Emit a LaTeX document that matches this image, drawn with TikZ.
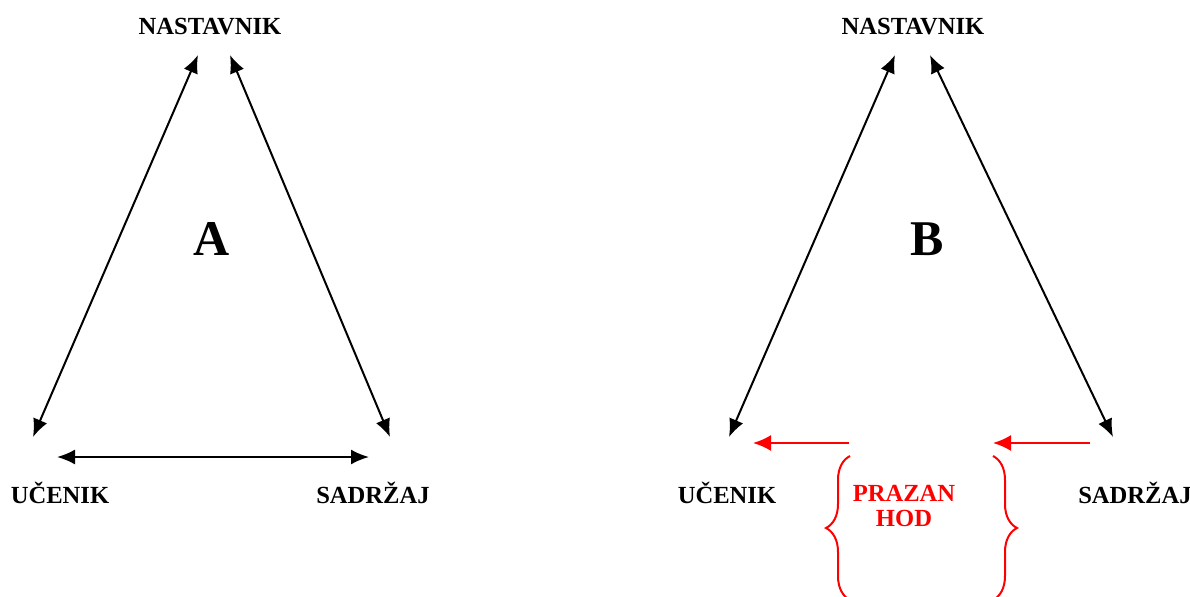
\documentclass[tikz,border=0pt]{standalone}
\usepackage{fontspec}
\setmainfont{Liberation Serif}
\usepackage{tikz}
\usetikzlibrary{arrows.meta,decorations.pathreplacing}

\begin{document}
\begin{tikzpicture}[x=0.5pt,y=-0.5pt,
    lbl/.style={font=\bfseries\fontsize{12.3}{12.5}\selectfont},
    big/.style={font=\bfseries\fontsize{25}{30}\selectfont},
    dbl/.style={line width=1pt, {Latex[length=9pt,width=7.5pt]}-{Latex[length=9pt,width=7.5pt]}},
    redarr/.style={red, line width=1pt, -{Latex[length=9pt,width=8pt]}},
    redbrace/.style={red, line width=1pt, decorate, decoration={brace,amplitude=12pt}}]
    \clip (0,0) rectangle (1190,596);
    % triangle A
    \node[lbl] (nastA) at (210,27) {NASTAVNIK};
    \node[lbl] (ucenA) at (60,493) {UČENIK};
    \node[lbl] (sadrA) at (373,493) {SADRŽAJ};
    \node[big] (letA) at (212,239) {A};
    \coordinate (nA1) at (198,55);
    \coordinate (nA2) at (230,55);
    \coordinate (uA1) at (33,437);
    \coordinate (uA2) at (57,457);
    \coordinate (sA1) at (390,437);
    \coordinate (sA2) at (369,457);
    \draw[dbl] (nA1) -- (uA1);
    \draw[dbl] (nA2) -- (sA1);
    \draw[dbl] (uA2) -- (sA2);
    % triangle B
    \node[lbl] (nastB) at (913,27) {NASTAVNIK};
    \node[lbl] (ucenB) at (727,493) {UČENIK};
    \node[lbl] (sadrB) at (1135,493) {SADRŽAJ};
    \node[big] (letB) at (927,239) {B};
    \coordinate (nB1) at (895,55);
    \coordinate (nB2) at (930,55);
    \coordinate (uB1) at (729,437);
    \coordinate (sB1) at (1113,437);
    \draw[dbl] (nB1) -- (uB1);
    \draw[dbl] (nB2) -- (sB1);
    % prazan hod
    \node[lbl, red, align=center] (hod) at (904,506) {PRAZAN\\HOD};
    \coordinate (r1s) at (849,443);
    \coordinate (r1e) at (753,443);
    \coordinate (r2s) at (1090,443);
    \coordinate (r2e) at (993,443);
    \draw[redarr] (r1s) -- (r1e);
    \draw[redarr] (r2s) -- (r2e);
    \coordinate (bl1) at (850,600);
    \coordinate (bl2) at (850,456);
    \coordinate (br1) at (993,456);
    \coordinate (br2) at (993,600);
    \draw[redbrace] (bl1) -- (bl2);
    \draw[redbrace] (br1) -- (br2);
\end{tikzpicture}
\end{document}
